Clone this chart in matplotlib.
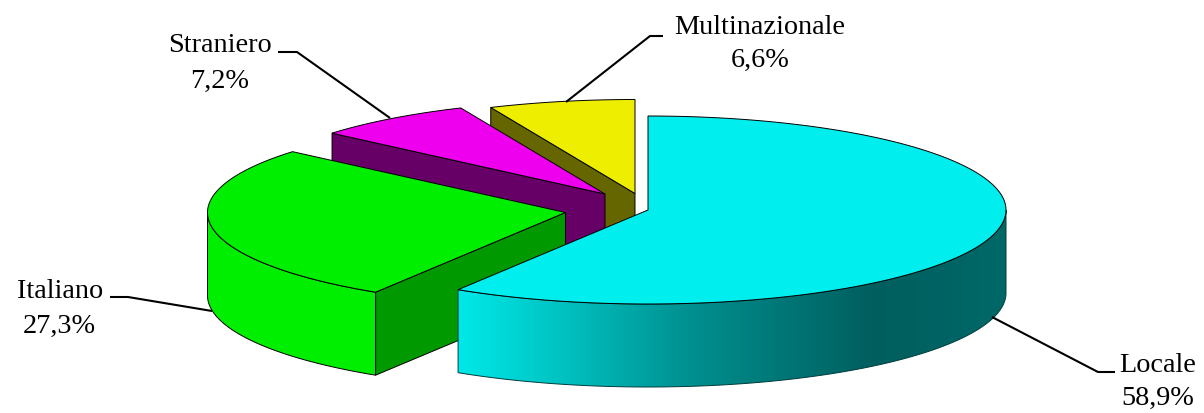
import numpy as np
import matplotlib
matplotlib.use("Agg")
import matplotlib.pyplot as plt
from matplotlib.patches import Polygon
from matplotlib.colors import LinearSegmentedColormap

labels = ["Locale", "Italiano", "Straniero", "Multinazionale"]
shares = [58.9, 27.3, 7.2, 6.6]
share_text = ["58,9%", "27,3%", "7,2%", "6,6%"]

# style / layout
top_colors = ["#00EEEE", "#00EE00", "#EE00EE", "#EEEE00"]
side_colors = ["#006666", "#009900", "#660066", "#666600"]
centers = [(648, 210), (565.5, 212.5), (605, 194), (635, 193.5)]
A, B, DEPTH = 358, 94, 83
label_pos = [(1158, 365), (60, 292), (220, 46), (760, 27)]
value_pos = [(1158, 398), (59, 326), (220, 81), (760, 60)]
leaders = [[(992, 317), (1098, 372), (1115, 372)],
           [(212, 311), (128, 297), (110, 297)],
           [(390, 118), (297, 52), (278, 52)],
           [(566, 102), (650, 36), (663, 36)]]

fig = plt.figure(figsize=(12.04, 4.13), dpi=100)
ax = fig.add_axes([0, 0, 1, 1])
ax.set_axis_off()


def pt(c, t, dz=0):
    return np.column_stack([c[0] + A * np.sin(t), c[1] - B * np.cos(t) + dz])


edges = np.cumsum([0] + shares) / sum(shares) * 2 * np.pi
lw = 0.7
grad = LinearSegmentedColormap.from_list("g", [
    (0.00, "#00E8E8"), (0.13, "#00CECE"), (0.42, "#009090"),
    (0.76, "#005E5E"), (1.00, "#006868")])

for i in [3, 2, 1, 0]:
    c = centers[i]
    t0, t1 = edges[i], edges[i + 1]
    ts = np.linspace(t0, t1, 200)
    rim_top = pt(c, ts)
    apex = np.array([c])
    # cut face along the slice's starting radius
    if i > 0:
        p = pt(c, np.array([t0]))
        ax.add_patch(Polygon(np.vstack([apex, p, p + [0, DEPTH], apex + [0, DEPTH]]),
                             fc=side_colors[i], ec="k", lw=lw, zorder=10 - i))
    # outer rim: only the part of the slice facing the viewer
    if i == 0:
        fs = np.linspace(np.pi / 2, t1, 300)
    elif i == 1:
        fs = np.linspace(t0, 1.5 * np.pi, 200)
    else:
        fs = None
    if fs is not None:
        a, b = pt(c, fs), pt(c, fs[::-1], DEPTH)
        rim = Polygon(np.vstack([a, b]), fc="none" if i == 0 else top_colors[i],
                      ec="#003C3C" if i == 0 else "k", lw=lw, zorder=10 - i + 0.2)
        ax.add_patch(rim)
        if i == 0:
            x0, x1 = a[:, 0].min(), a[:, 0].max()
            im = ax.imshow(np.linspace(0, 1, 512)[None, :], cmap=grad, aspect="auto",
                           extent=[x0, x1, 400, 100], zorder=10 - i + 0.1)
            im.set_clip_path(rim)
    ax.add_patch(Polygon(np.vstack([apex, rim_top]), fc=top_colors[i], ec="k", lw=lw,
                         zorder=10 - i + 0.3))

for i in range(4):
    xs, ys = zip(*leaders[i])
    ax.plot(xs, ys, color="k", lw=1.5, zorder=20, solid_capstyle="butt")
    ax.text(*label_pos[i], labels[i], family="Liberation Serif", fontsize=20.3,
            ha="center", va="center", color="k", zorder=21)
    ax.text(*value_pos[i], share_text[i], family="Liberation Serif", fontsize=20.3,
            ha="center", va="center", color="k", zorder=21)

ax.set_xlim(0, 1204)
ax.set_ylim(413, 0)
fig.savefig("out.png", dpi=100)
